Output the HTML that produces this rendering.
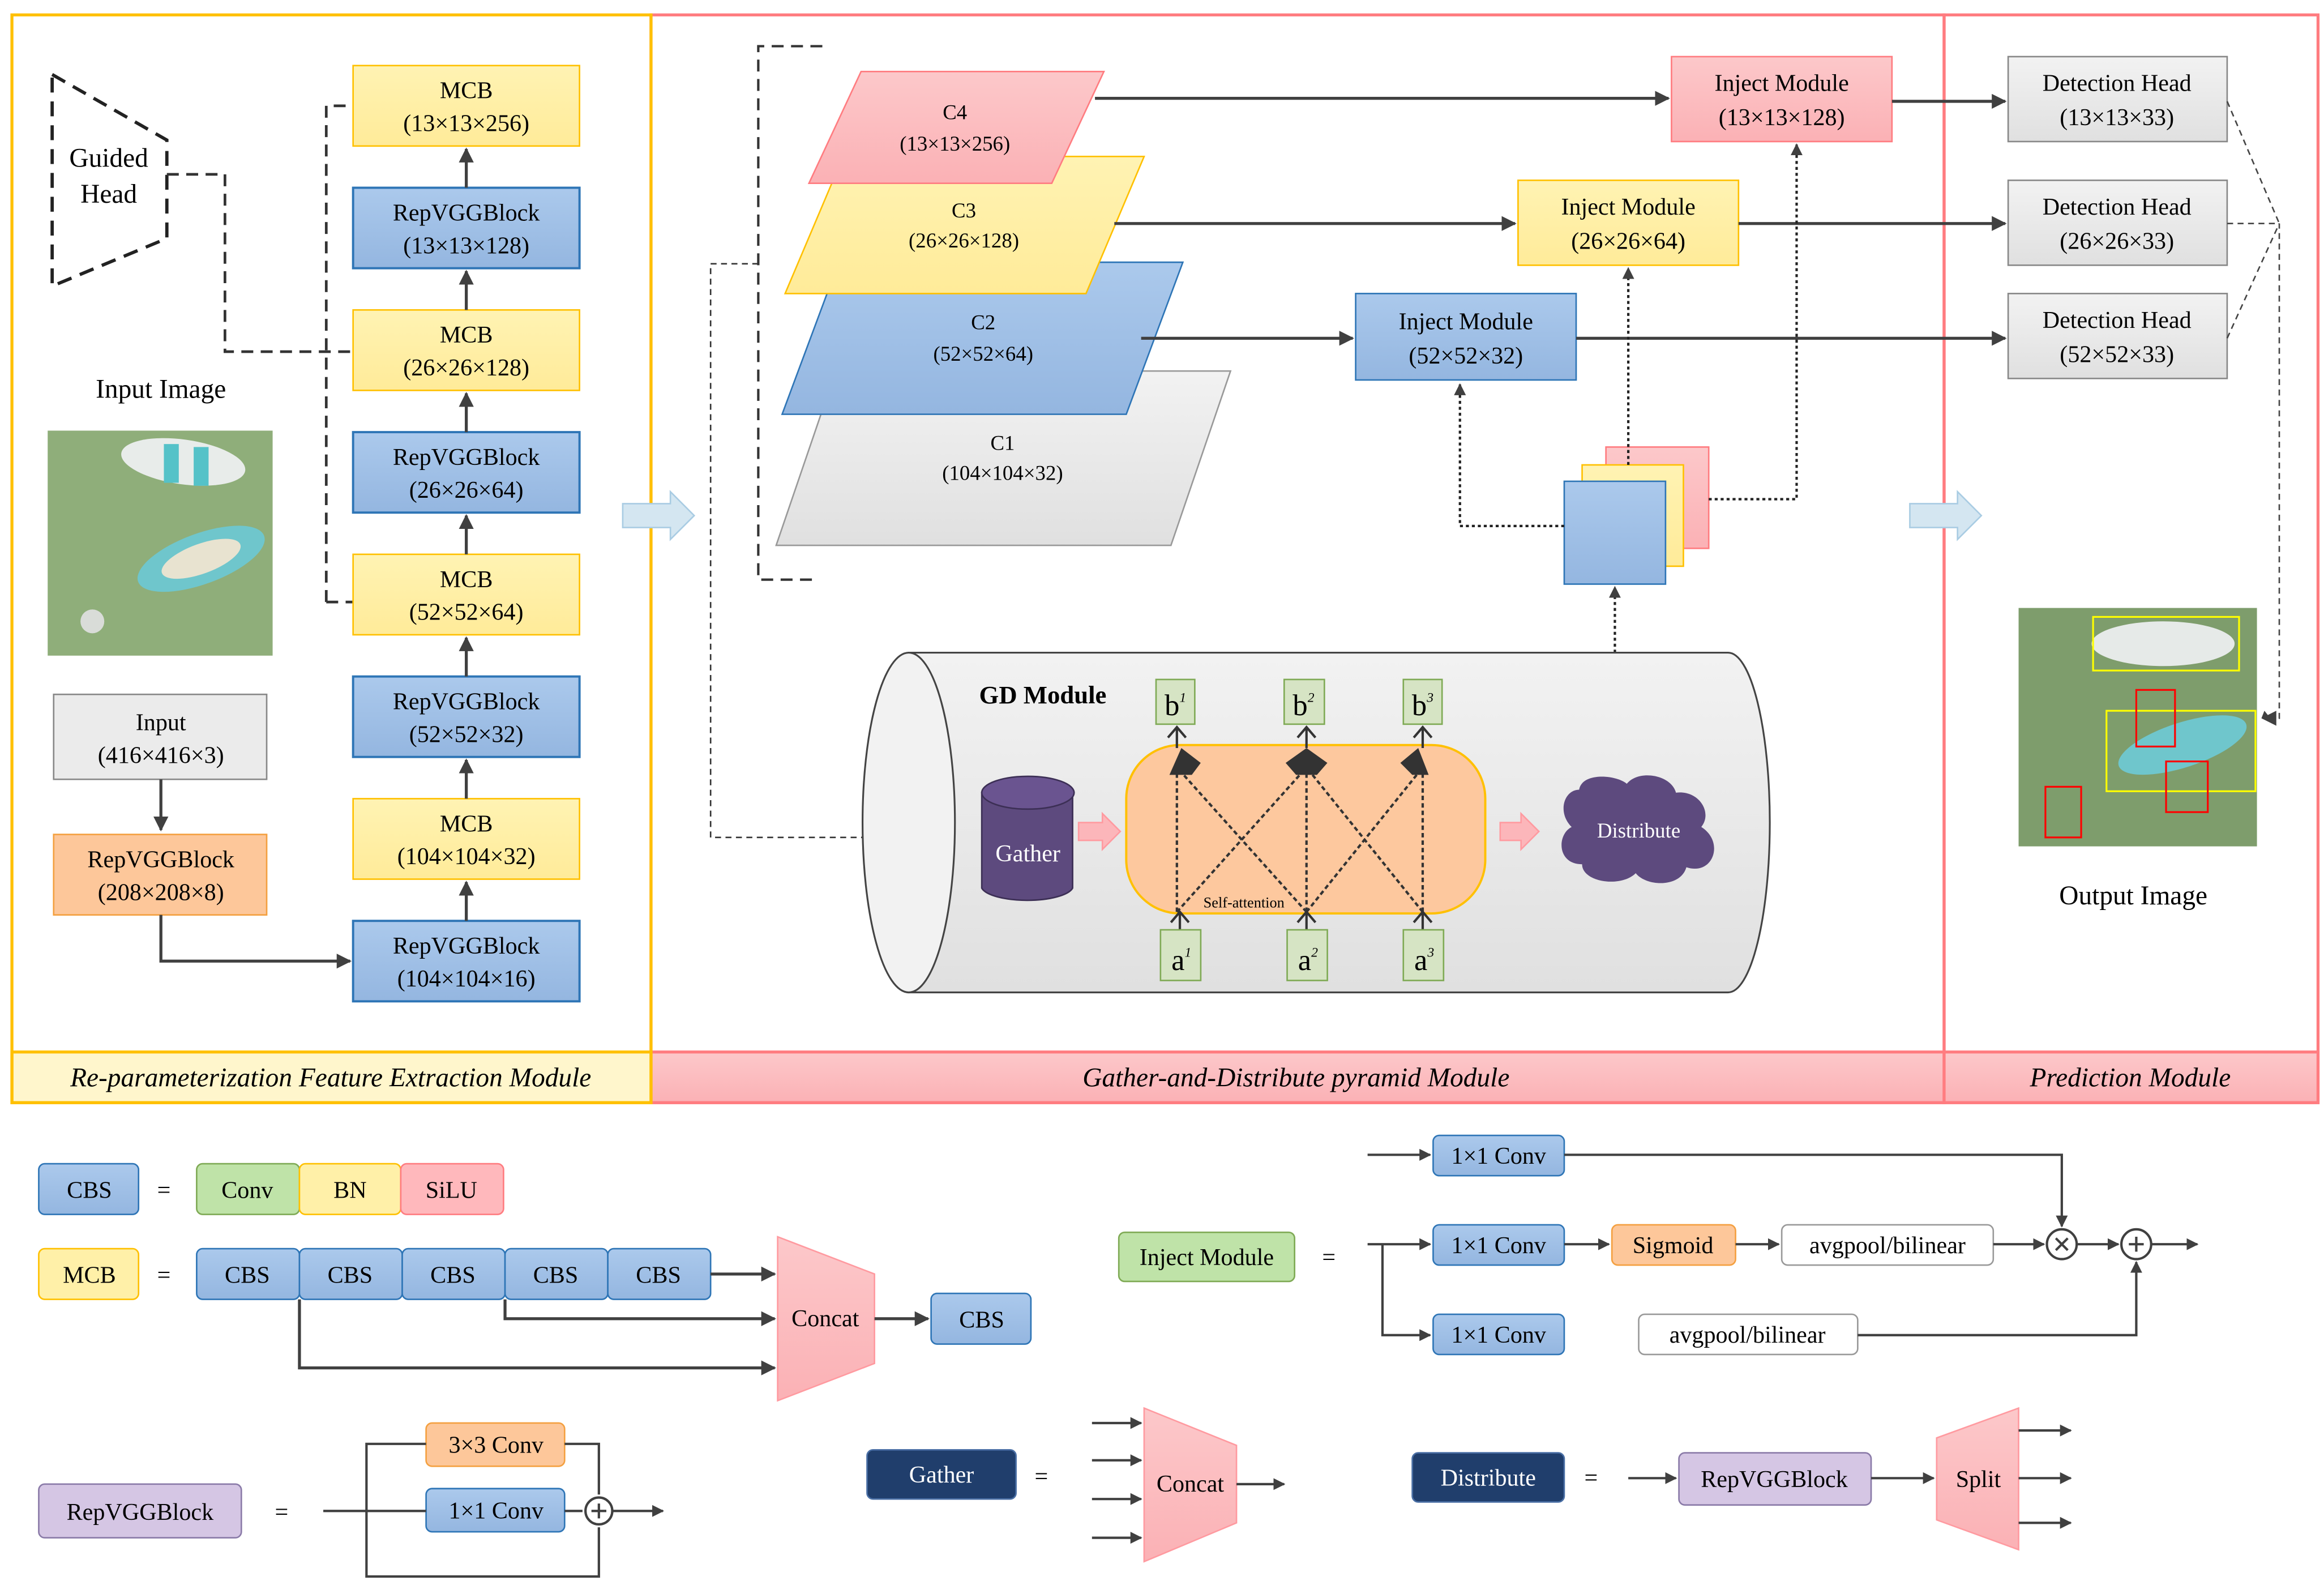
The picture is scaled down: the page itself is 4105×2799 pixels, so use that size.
<!DOCTYPE html>
<html><head><meta charset="utf-8"><style>html,body{margin:0;padding:0;background:#fff}svg{display:block}text{font-family:"Liberation Serif",serif}</style></head><body>
<svg width="4105" height="2799" viewBox="0 0 1560 1063.7" xmlns="http://www.w3.org/2000/svg">
<defs>
<marker id="a" viewBox="0 0 10 10" refX="9" refY="5" markerWidth="5" markerHeight="5" orient="auto"><path d="M0,0L10,5L0,10z" fill="#404040"/></marker>
<linearGradient id="gb" x1="0" y1="0" x2="0" y2="1"><stop offset="0" stop-color="#abc9ec"/><stop offset="1" stop-color="#94b6e0"/></linearGradient>
<linearGradient id="gy" x1="0" y1="0" x2="0" y2="1"><stop offset="0" stop-color="#fff3b3"/><stop offset="1" stop-color="#ffeb99"/></linearGradient>
<linearGradient id="gc" x1="0" y1="0" x2="0" y2="1"><stop offset="0" stop-color="#f2f2f2"/><stop offset="1" stop-color="#e0e0e0"/></linearGradient>
<linearGradient id="gp" x1="0" y1="0" x2="0" y2="1"><stop offset="0" stop-color="#fcc8ca"/><stop offset="1" stop-color="#fbb1b5"/></linearGradient>
</defs>
<g font-size="16" text-anchor="middle">
<!-- panels -->
<rect x="437" y="10" width="868" height="730" fill="none" stroke="#ff7c80" stroke-width="2"/>
<rect x="1305" y="10" width="251" height="730" fill="none" stroke="#ff7c80" stroke-width="2"/>
<rect x="437" y="706" width="868" height="34" fill="url(#gp)" stroke="#ff7c80" stroke-width="2"/>
<rect x="1305" y="706" width="251" height="34" fill="url(#gp)" stroke="#ff7c80" stroke-width="2"/>
<rect x="8" y="706" width="429" height="34" fill="#fff6cc" stroke="#ffc000" stroke-width="2"/>
<rect x="8" y="10" width="429" height="730" fill="none" stroke="#ffc000" stroke-width="2"/>
<text x="222" y="729" font-style="italic" font-size="18">Re-parameterization Feature Extraction Module</text>
<text x="870" y="729" font-style="italic" font-size="18">Gather-and-Distribute pyramid Module</text>
<text x="1430" y="729" font-style="italic" font-size="18">Prediction Module</text>

<!-- left panel -->
<path d="M35,50L112,94V160L35,192Z" fill="none" stroke="#222" stroke-width="2.2" stroke-dasharray="10,6"/>
<text x="73" y="112" font-size="18">Guided</text><text x="73" y="136" font-size="18">Head</text>
<path d="M112,117H151V236H237M219,404H237M219,404V71H237" fill="none" stroke="#333" stroke-width="1.8" stroke-dasharray="8,5"/>
<text x="108" y="267" font-size="18">Input Image</text>
<rect x="32" y="289" width="151" height="151" fill="#8fae7a"/>
<ellipse cx="123" cy="310" rx="42" ry="15" fill="#e8ecea" transform="rotate(8 123 310)"/>
<rect x="110" y="298" width="10" height="26" fill="#55c2c8"/><rect x="130" y="300" width="10" height="26" fill="#55c2c8"/>
<ellipse cx="135" cy="375" rx="45" ry="17" fill="#6fc6cc" transform="rotate(-20 135 375)"/>
<ellipse cx="135" cy="375" rx="28" ry="10" fill="#e8e3d0" transform="rotate(-20 135 375)"/>
<ellipse cx="62" cy="417" rx="8" ry="8" fill="#d9dcd8"/>
<rect x="36" y="466" width="143" height="57" fill="#ebebeb" stroke="#888"/>
<text x="108" y="490">Input</text><text x="108" y="512">(416×416×3)</text>
<path d="M108,523V557" stroke="#404040" stroke-width="2" marker-end="url(#a)"/>
<rect x="36" y="560" width="143" height="54" fill="#fdc79a" stroke="#f4a040"/>
<text x="108" y="582">RepVGGBlock</text><text x="108" y="604">(208×208×8)</text>
<path d="M108,614V645H235" fill="none" stroke="#404040" stroke-width="2" marker-end="url(#a)"/>
<g>
<rect x="237" y="44" width="152" height="54" fill="url(#gy)" stroke="#ffc000"/><text x="313" y="66">MCB</text><text x="313" y="88">(13×13×256)</text>
<rect x="237" y="126" width="152" height="54" fill="url(#gb)" stroke="#2e75b6" stroke-width="1.5"/><text x="313" y="148">RepVGGBlock</text><text x="313" y="170">(13×13×128)</text>
<rect x="237" y="208" width="152" height="54" fill="url(#gy)" stroke="#ffc000"/><text x="313" y="230">MCB</text><text x="313" y="252">(26×26×128)</text>
<rect x="237" y="290" width="152" height="54" fill="url(#gb)" stroke="#2e75b6" stroke-width="1.5"/><text x="313" y="312">RepVGGBlock</text><text x="313" y="334">(26×26×64)</text>
<rect x="237" y="372" width="152" height="54" fill="url(#gy)" stroke="#ffc000"/><text x="313" y="394">MCB</text><text x="313" y="416">(52×52×64)</text>
<rect x="237" y="454" width="152" height="54" fill="url(#gb)" stroke="#2e75b6" stroke-width="1.5"/><text x="313" y="476">RepVGGBlock</text><text x="313" y="498">(52×52×32)</text>
<rect x="237" y="536" width="152" height="54" fill="url(#gy)" stroke="#ffc000"/><text x="313" y="558">MCB</text><text x="313" y="580">(104×104×32)</text>
<rect x="237" y="618" width="152" height="54" fill="url(#gb)" stroke="#2e75b6" stroke-width="1.5"/><text x="313" y="640">RepVGGBlock</text><text x="313" y="662">(104×104×16)</text>
</g>
<g stroke="#404040" stroke-width="2" marker-end="url(#a)">
<path d="M313,126V100"/><path d="M313,208V182"/><path d="M313,290V264"/><path d="M313,372V346"/><path d="M313,454V428"/><path d="M313,536V510"/><path d="M313,618V592"/>
</g>
<path d="M418,338H450V330L466,346L450,362V354H418Z" fill="#d4e6f1" stroke="#a9cce3"/>
<path d="M1282,338H1314V330L1330,346L1314,362V354H1282Z" fill="#d4e6f1" stroke="#a9cce3"/>

<!-- middle -->
<path d="M552,31H509V389H545" fill="none" stroke="#333" stroke-width="1.6" stroke-dasharray="8,5"/>
<path d="M509,177H477V562H655" fill="none" stroke="#333" stroke-width="1" stroke-dasharray="4,3" marker-end="url(#a)"/>
<path d="M561,249H826L786,366H521Z" fill="url(#gc)" stroke="#999"/>
<text x="673" y="302" font-size="14">C1</text><text x="673" y="322" font-size="14">(104×104×32)</text>
<path d="M563,176H794L756,278H525Z" fill="url(#gb)" stroke="#2e75b6"/>
<text x="660" y="221" font-size="14">C2</text><text x="660" y="242" font-size="14">(52×52×64)</text>
<path d="M566,105H768L729,197H527Z" fill="url(#gy)" stroke="#ffc000"/>
<text x="647" y="146" font-size="14">C3</text><text x="647" y="166" font-size="14">(26×26×128)</text>
<path d="M578,48H741L706,123H543Z" fill="url(#gp)" stroke="#ff7c80"/>
<text x="641" y="80" font-size="14">C4</text><text x="641" y="101" font-size="14">(13×13×256)</text>
<rect x="1122" y="38" width="148" height="57" fill="url(#gp)" stroke="#ff7c80"/><text x="1196" y="61">Inject Module</text><text x="1196" y="84">(13×13×128)</text>
<rect x="1019" y="121" width="148" height="57" fill="url(#gy)" stroke="#ffc000"/><text x="1093" y="144">Inject Module</text><text x="1093" y="167">(26×26×64)</text>
<rect x="910" y="197" width="148" height="58" fill="url(#gb)" stroke="#2e75b6"/><text x="984" y="221">Inject Module</text><text x="984" y="244">(52×52×32)</text>
<g stroke="#404040" stroke-width="2" marker-end="url(#a)" fill="none">
<path d="M735,66H1120"/><path d="M748,150H1017"/><path d="M766,227H908"/>
<path d="M1270,68H1346"/><path d="M1167,150H1346"/><path d="M1058,227H1346"/>
</g>
<rect x="1348" y="38" width="147" height="57" fill="url(#gc)" stroke="#888"/><text x="1421" y="61">Detection Head</text><text x="1421" y="84">(13×13×33)</text>
<rect x="1348" y="121" width="147" height="57" fill="url(#gc)" stroke="#888"/><text x="1421" y="144">Detection Head</text><text x="1421" y="167">(26×26×33)</text>
<rect x="1348" y="197" width="147" height="57" fill="url(#gc)" stroke="#888"/><text x="1421" y="220">Detection Head</text><text x="1421" y="243">(52×52×33)</text>
<path d="M1495,68L1530,150M1495,150H1530M1495,227L1530,150V482H1520" fill="none" stroke="#444" stroke-width="1" stroke-dasharray="4,3"/>
<path d="M1520,477L1518,482L1528,487Z" fill="#404040"/>
<path d="M1528,477L1518,482L1528,487Z" fill="#404040"/>
<rect x="1078" y="300" width="69" height="68" fill="url(#gp)" stroke="#ff7c80"/>
<rect x="1062" y="312" width="68" height="68" fill="url(#gy)" stroke="#ffc000"/>
<rect x="1050" y="323" width="68" height="69" fill="url(#gb)" stroke="#2e75b6"/>
<g stroke="#222" stroke-width="1.6" stroke-dasharray="2,2" fill="none" marker-end="url(#a)">
<path d="M1050,353H980V258"/><path d="M1093,312V180"/><path d="M1147,335H1206V97"/><path d="M1084,530V394"/>
</g>
<!-- GD cylinder -->
<path d="M610,438H1160A28,114 0 0 1 1160,666H610Z" fill="url(#gc)" stroke="#444" stroke-width="1.2"/>
<ellipse cx="610" cy="552" rx="31" ry="114" fill="#f2f2f2" stroke="#444" stroke-width="1.2"/>
<text x="700" y="472" font-weight="bold" font-size="17">GD Module</text>
<path d="M659,532V596A31,10 0 0 0 720,596V532Z" fill="#5d4a7e" stroke="#3c2f55"/>
<ellipse cx="690" cy="532" rx="31" ry="11" fill="#6a5490" stroke="#3c2f55"/>
<text x="690" y="578" fill="#fff">Gather</text>
<path d="M724,552H740V546L752,558L740,570V564H724Z" fill="#fcb6ba" stroke="#ff9aa0"/>
<path d="M1007,552H1021V546L1033,558L1021,570V564H1007Z" fill="#fcb6ba" stroke="#ff9aa0"/>
<rect x="756" y="500" width="241" height="113" rx="36" fill="#fdc89e" stroke="#ffc000" stroke-width="1.5"/>
<g stroke="#333" stroke-width="1.6" stroke-dasharray="3,2" fill="none">
<path d="M790,612V515M877,612V515M955,612V515"/>
<path d="M790,612L877,515M877,612L790,515M877,612L955,515M955,612L877,515"/>
</g>
<g fill="#333"><path d="M785,520L793,502L806,512L800,520Z"/><path d="M863,512L877,502L891,512L884,520H870Z"/><path d="M940,512L952,502L959,520H948Z"/></g>
<g stroke="#333" stroke-width="1.6" fill="none"><path d="M790,502V488M784,495L790,488L796,495M877,502V488M871,495L877,488L883,495M955,502V488M949,495L955,488L961,495M792,624V612M786,619L792,612L798,619M877,624V612M871,619L877,612L883,619M955,624V612M949,619L955,612L961,619"/></g>
<text x="835" y="609" font-size="10">Self-attention</text>
<g fill="#d6e4c4" stroke="#7faa55">
<rect x="776" y="456" width="26" height="30"/><rect x="862" y="456" width="27" height="30"/><rect x="942" y="456" width="26" height="30"/>
<rect x="779" y="624" width="27" height="34"/><rect x="864" y="624" width="27" height="34"/><rect x="942" y="624" width="27" height="34"/>
</g>
<g font-size="20"><text x="789" y="480">b<tspan font-size="9" dy="-9" font-style="italic">1</tspan></text><text x="875" y="480">b<tspan font-size="9" dy="-9" font-style="italic">2</tspan></text><text x="955" y="480">b<tspan font-size="9" dy="-9" font-style="italic">3</tspan></text>
<text x="793" y="651">a<tspan font-size="9" dy="-9" font-style="italic">1</tspan></text><text x="878" y="651">a<tspan font-size="9" dy="-9" font-style="italic">2</tspan></text><text x="956" y="651">a<tspan font-size="9" dy="-9" font-style="italic">3</tspan></text></g>
<path d="M1060,530C1062,518 1085,520 1092,526C1100,516 1122,520 1125,532C1140,530 1150,545 1142,555C1158,565 1150,588 1132,582C1128,596 1105,595 1098,586C1088,596 1062,592 1062,580C1045,580 1045,560 1055,555C1045,545 1050,530 1060,530Z" fill="#5d4a7e"/>
<text x="1100" y="562" fill="#fff" font-size="14">Distribute</text>
<!-- output image -->
<rect x="1355" y="408" width="160" height="160" fill="#7e9d6c"/>
<ellipse cx="1452" cy="432" rx="48" ry="15" fill="#e6eae8"/>
<ellipse cx="1465" cy="500" rx="45" ry="15" fill="#6fc6cc" transform="rotate(-18 1465 500)"/>
<g fill="none" stroke-width="1.2"><rect x="1405" y="414" width="98" height="36" stroke="#ffff00"/><rect x="1414" y="477" width="100" height="54" stroke="#ffff00"/><rect x="1434" y="463" width="26" height="38" stroke="#ff0000"/><rect x="1454" y="511" width="28" height="34" stroke="#ff0000"/><rect x="1373" y="528" width="24" height="34" stroke="#ff0000"/></g>
<text x="1432" y="607" font-size="18">Output Image</text>

<!-- legend -->
<rect x="26" y="781" width="67" height="34" rx="4" fill="url(#gb)" stroke="#2e75b6"/><text x="60" y="804">CBS</text>
<text x="110" y="804">=</text>
<rect x="132" y="781" width="69" height="34" rx="4" fill="#bfe3a8" stroke="#7faa55"/><text x="166" y="804">Conv</text>
<rect x="201" y="781" width="68" height="34" rx="4" fill="#fff0a8" stroke="#ffc000"/><text x="235" y="804">BN</text>
<rect x="269" y="781" width="69" height="34" rx="4" fill="#ffb8bc" stroke="#ff7c80"/><text x="303" y="804">SiLU</text>
<rect x="26" y="838" width="67" height="34" rx="4" fill="#fff0a8" stroke="#ffc000"/><text x="60" y="861">MCB</text>
<text x="110" y="861">=</text>
<g fill="url(#gb)" stroke="#2e75b6"><rect x="132" y="838" width="69" height="34" rx="4"/><rect x="201" y="838" width="69" height="34" rx="4"/><rect x="270" y="838" width="69" height="34" rx="4"/><rect x="339" y="838" width="69" height="34" rx="4"/><rect x="408" y="838" width="69" height="34" rx="4"/><rect x="625" y="868" width="67" height="34" rx="4"/></g>
<text x="166" y="861">CBS</text><text x="235" y="861">CBS</text><text x="304" y="861">CBS</text><text x="373" y="861">CBS</text><text x="442" y="861">CBS</text><text x="659" y="891">CBS</text>
<path d="M522,830L587,855V915L522,940Z" fill="url(#gp)" stroke="#ff9aa0"/><text x="554" y="890">Concat</text>
<g stroke="#404040" stroke-width="2" fill="none" marker-end="url(#a)">
<path d="M477,855H520"/><path d="M339,872V885H520"/><path d="M201,872V918H520"/><path d="M587,885H623"/>
</g>
<rect x="26" y="996" width="136" height="36" rx="4" fill="#d5c6e4" stroke="#8a7aa8"/><text x="94" y="1020">RepVGGBlock</text>
<text x="189" y="1020">=</text>
<rect x="286" y="955" width="93" height="29" rx="4" fill="#fdc79a" stroke="#f4a040"/><text x="333" y="975">3×3 Conv</text>
<rect x="286" y="999" width="93" height="29" rx="4" fill="url(#gb)" stroke="#2e75b6"/><text x="333" y="1019">1×1 Conv</text>
<g stroke="#404040" stroke-width="1.6" fill="none">
<path d="M217,1014H286M246,1014V969H286M246,1014V1058H402V1025" /><path d="M379,969H402V1003"/><path d="M379,1014H391"/><path d="M411,1014H445" marker-end="url(#a)"/>
<circle cx="402" cy="1014" r="9" fill="#fff"/><path d="M397,1014H407M402,1009V1019"/>
</g>
<rect x="582" y="973" width="100" height="33" rx="4" fill="#203e6c" stroke="#4a6fa5"/><text x="632" y="995" fill="#fff">Gather</text>
<text x="699" y="996">=</text>
<path d="M768,945L830,970V1022L768,1048Z" fill="url(#gp)" stroke="#ff9aa0"/><text x="799" y="1001">Concat</text>
<g stroke="#404040" stroke-width="1.6" fill="none" marker-end="url(#a)">
<path d="M733,955H766"/><path d="M733,980H766"/><path d="M733,1006H766"/><path d="M733,1032H766"/><path d="M830,996H862"/>
</g>
<rect x="948" y="975" width="102" height="33" rx="4" fill="#203e6c" stroke="#4a6fa5"/><text x="999" y="997" fill="#fff">Distribute</text>
<text x="1068" y="997">=</text>
<rect x="1127" y="975" width="129" height="35" rx="4" fill="#d5c6e4" stroke="#8a7aa8"/><text x="1191" y="998">RepVGGBlock</text>
<path d="M1300,965L1355,945V1040L1300,1020Z" fill="url(#gp)" stroke="#ff9aa0"/><text x="1328" y="998">Split</text>
<g stroke="#404040" stroke-width="1.6" fill="none" marker-end="url(#a)">
<path d="M1093,992H1125"/><path d="M1256,992H1298"/><path d="M1355,960H1390"/><path d="M1355,992H1390"/><path d="M1355,1022H1390"/>
</g>
<rect x="751" y="827" width="118" height="33" rx="4" fill="#bfe3a8" stroke="#7faa55"/><text x="810" y="849">Inject Module</text>
<text x="892" y="849">=</text>
<g fill="url(#gb)" stroke="#2e75b6"><rect x="962" y="762" width="88" height="27" rx="4"/><rect x="962" y="822" width="88" height="27" rx="4"/><rect x="962" y="882" width="88" height="27" rx="4"/></g>
<text x="1006" y="781">1×1 Conv</text><text x="1006" y="841">1×1 Conv</text><text x="1006" y="901">1×1 Conv</text>
<rect x="1082" y="822" width="83" height="27" rx="4" fill="#fdc79a" stroke="#f4a040"/><text x="1123" y="841">Sigmoid</text>
<rect x="1196" y="822" width="142" height="27" rx="4" fill="#fff" stroke="#999"/><text x="1267" y="841">avgpool/bilinear</text>
<rect x="1100" y="882" width="147" height="27" rx="4" fill="#fff" stroke="#999"/><text x="1173" y="901">avgpool/bilinear</text>
<g stroke="#404040" stroke-width="1.6" fill="none">
<path d="M918,775H960" marker-end="url(#a)"/><path d="M918,835H960" marker-end="url(#a)"/><path d="M928,835V896H960" marker-end="url(#a)"/>
<path d="M1050,775H1384V823" marker-end="url(#a)"/><path d="M1050,835H1080" marker-end="url(#a)"/><path d="M1165,835H1194" marker-end="url(#a)"/>
<path d="M1338,835H1372" marker-end="url(#a)"/><path d="M1394,835H1422" marker-end="url(#a)"/><path d="M1444,835H1475" marker-end="url(#a)"/>
<path d="M1247,896H1434V847" marker-end="url(#a)"/>
<circle cx="1384" cy="835" r="10" fill="#fff"/><path d="M1380,831L1388,839M1388,831L1380,839"/>
<circle cx="1434" cy="835" r="10" fill="#fff"/><path d="M1429,835H1439M1434,830V840"/>
</g>
</g>
</svg>
</body></html>
